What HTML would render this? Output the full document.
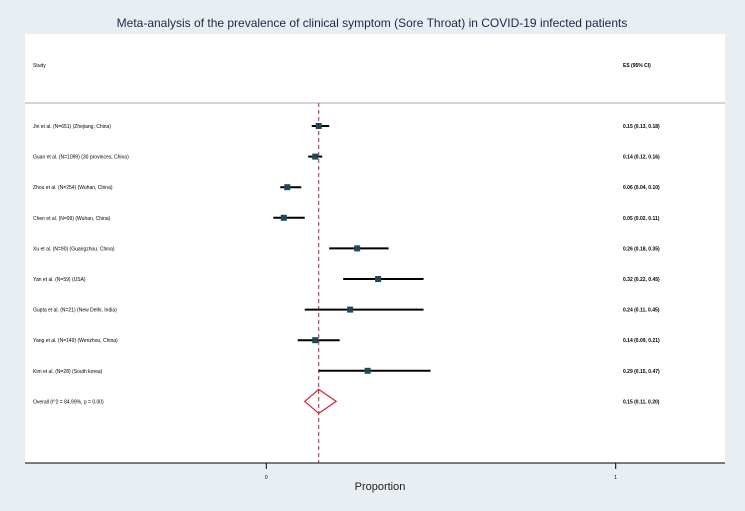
<!DOCTYPE html>
<html><head><meta charset="utf-8"><style>
html,body{margin:0;padding:0;background:#e8eef2;}
svg{display:block;font-family:"Liberation Sans",sans-serif;}
</style></head><body>
<svg id="chart" width="745" height="511" viewBox="0 0 745 511">
<rect x="0" y="0" width="745" height="511" fill="#e8eef2"/>
<text x="372" y="27" text-anchor="middle" font-size="12" fill="#1a2a4a">Meta-analysis of the prevalence of clinical symptom (Sore Throat) in COVID-19 infected patients</text>
<rect x="25" y="34" width="700" height="429" fill="#ffffff"/>
<line x1="25" y1="103" x2="725" y2="103" stroke="#aaaaaa" stroke-width="1"/>
<text x="33" y="67" font-size="5" fill="#000">Study</text>
<text x="623" y="67" font-size="5" font-weight="bold" fill="#000">ES (95% CI)</text>
<line x1="25" y1="463" x2="725" y2="463" stroke="#000" stroke-width="1"/>
<text x="380" y="490" text-anchor="middle" font-size="11" fill="#222">Proportion</text>
<g id="marks"></g>
</svg>
<script>
const studies=["Jin et al. (N=651) (Zhejiang, China)","Guan et al. (N=1099) (30 provinces, China)","Zhou et al. (N=254) (Wuhan, China)","Chen et al. (N=99) (Wuhan, China)","Xu et al. (N=90) (Guangzhou, China)","Yan et al. (N=59) (USA)","Gupta et al. (N=21) (New Delhi, India)","Yang et al. (N=149) (Wenzhou, China)","Kim et al. (N=28) (South korea)"];
const es=[0.15,0.14,0.06,0.05,0.26,0.32,0.24,0.14,0.29];
const lo=[0.13,0.12,0.04,0.02,0.18,0.22,0.11,0.09,0.15];
const hi=[0.18,0.16,0.10,0.11,0.35,0.45,0.45,0.21,0.47];
const overall=[0.15,0.11,0.20];
const overallLabel="Overall  (I^2 = 84.99%, p = 0.00)";
const xTicks=[0,1];
const NS="http://www.w3.org/2000/svg";
const g=document.getElementById('marks');
const xs=v=>266.3+v*349.4;
const ys=i=>126+i*30.6;
function mk(t,a){const e=document.createElementNS(NS,t);for(const k in a)e.setAttribute(k,a[k]);g.appendChild(e);return e;}
const fmt=v=>v.toFixed(2);
let e=mk('line',{x1:xs(overall[0]),x2:xs(overall[0]),y1:103,y2:463,stroke:'#a0283c','stroke-width':1,'stroke-dasharray':'4,3'});


studies.forEach((s,i)=>{
  const y=ys(i);
  let t=mk('text',{x:33,y:y+2,'font-size':5,fill:'#000'});t.textContent=s;
  
  
  let l=mk('line',{x1:xs(lo[i]),x2:xs(hi[i]),y1:y,y2:y,stroke:'#000','stroke-width':2});
  
  
  let r=mk('rect',{x:xs(es[i])-3,y:y-3,width:6,height:6,fill:'#1d4a5a'});
  
  
  let v=mk('text',{x:623,y:y+2,'font-size':5,'font-weight':'bold',fill:'#000'});v.textContent=fmt(es[i])+' ('+fmt(lo[i])+', '+fmt(hi[i])+')';
  
  
});
const oy=ys(studies.length);
let ot=mk('text',{x:33,y:oy+2,'font-size':5,fill:'#000'});ot.textContent=overallLabel;


let d=mk('polygon',{points:`${xs(overall[1])},${oy} ${xs(overall[0])},${oy-12} ${xs(overall[2])},${oy} ${xs(overall[0])},${oy+12}`,fill:'none',stroke:'#d8202c','stroke-width':1.2});


let ov=mk('text',{x:623,y:oy+2,'font-size':5,'font-weight':'bold',fill:'#000'});ov.textContent=fmt(overall[0])+' ('+fmt(overall[1])+', '+fmt(overall[2])+')';


xTicks.forEach(v=>{
  let tk=mk('line',{x1:xs(v),x2:xs(v),y1:463,y2:469,stroke:'#000','stroke-width':1});
  
  
  let tl=mk('text',{x:xs(v),y:479,'text-anchor':'middle','font-size':5,fill:'#000'});tl.textContent=String(v);
  
  
});
</script>
</body></html>
